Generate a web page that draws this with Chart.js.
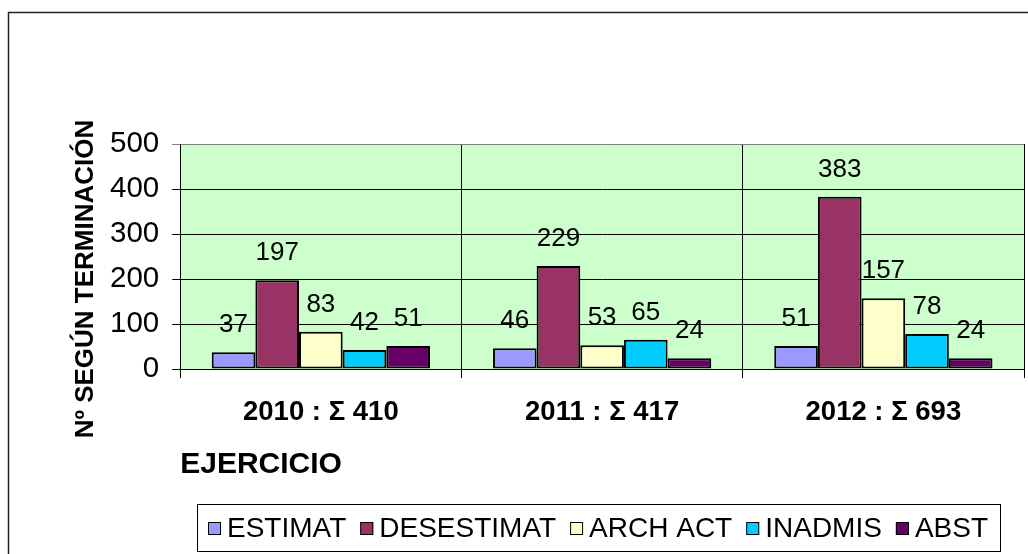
<!DOCTYPE html>
<html><head><meta charset="utf-8">
<script src="https://cdn.jsdelivr.net/npm/chart.js@4.4.0/dist/chart.umd.min.js"></script>
<style>html,body{margin:0;padding:0;background:#fff}#wrap{width:1028px;height:554px;position:relative}canvas{display:block}</style>
</head><body><div id="wrap"><canvas id="c" width="1028" height="554"></canvas></div>
<script>
const categories = ['2010 : Σ 410', '2011 : Σ 417', '2012 : Σ 693'];
const seriesNames = ['ESTIMAT', 'DESESTIMAT', 'ARCH ACT', 'INADMIS', 'ABST'];
const estimat = [37, 46, 51];
const desestimat = [197, 229, 383];
const archAct = [83, 53, 157];
const inadmis = [42, 65, 78];
const abst = [51, 24, 24];
const yTicks = [0, 100, 200, 300, 400, 500];
const yTitle = 'Nº SEGÚN TERMINACIÓN';
const xTitle = 'EJERCICIO';
const seriesColors = ['#9999FF', '#993366', '#FFFFCC', '#00CCFF', '#660066'];

const seriesValues = [estimat, desestimat, archAct, inadmis, abst];
const FONT = "'Liberation Sans', Arial, sans-serif";

const deco = {
  id: 'deco',
  beforeDraw(chart) {
    const ctx = chart.ctx, a = chart.chartArea;
    ctx.save();
    ctx.fillStyle = '#fff';
    ctx.fillRect(0, 0, chart.width, chart.height);
    ctx.strokeStyle = '#222';
    ctx.lineWidth = 1.5;
    ctx.strokeRect(8.5, 12.5, 1200, 700);
    ctx.fillStyle = '#CCFFCC';
    ctx.fillRect(a.left, a.top, a.right - a.left, a.bottom - a.top);
    ctx.restore();
  },
  afterDatasetsDraw(chart) {
    const ctx = chart.ctx;
    ctx.save();
    ctx.font = '26px ' + FONT;
    ctx.fillStyle = '#000';
    ctx.textAlign = 'center';
    ctx.textBaseline = 'alphabetic';
    chart.data.datasets.forEach((ds, i) => {
      chart.getDatasetMeta(i).data.forEach((bar, j) => {
        ctx.fillText(String(ds.data[j]), bar.x, bar.y - 20);
      });
    });
    ctx.restore();
  },
  afterDraw(chart) {
    const ctx = chart.ctx, a = chart.chartArea;
    ctx.save();
    ctx.font = 'bold 26px ' + FONT;
    ctx.fillStyle = '#000';
    ctx.textAlign = 'center';
    ctx.textBaseline = 'alphabetic';
    ctx.translate(93, 279);
    ctx.rotate(-Math.PI / 2);
    ctx.fillText(yTitle, 0, 0);
    ctx.restore();
    ctx.save();
    ctx.font = '28px ' + FONT;
    ctx.textBaseline = 'middle';
    ctx.textAlign = 'left';
    const box = 13, gapText = 6, gapItem = 14;
    const items = chart.data.datasets.map(ds => ({ text: ds.label, color: ds.backgroundColor, w: ctx.measureText(ds.label).width }));
    const total = items.reduce((s, it) => s + box + gapText + it.w, 0) + gapItem * (items.length - 1);
    const cx = (a.left + a.right) / 2 - 4;
    const cy = 528;
    let x = Math.round(cx - total / 2);
    ctx.strokeStyle = '#000';
    ctx.lineWidth = 1;
    ctx.strokeRect(x - 11 + 0.5, 504.5, total + 23, 47);
    items.forEach(it => {
      ctx.fillStyle = it.color;
      ctx.fillRect(x, cy - 6, box, box);
      ctx.strokeStyle = '#000';
      ctx.strokeRect(x + 0.5, cy - 6 + 0.5, box - 1, box - 1);
      ctx.fillStyle = '#000';
      ctx.fillText(it.text, x + box + gapText, cy + 1);
      x += box + gapText + it.w + gapItem;
    });
    ctx.restore();
  }
};

new Chart(document.getElementById('c'), {
  type: 'bar',
  data: {
    labels: categories,
    datasets: seriesNames.map((n, i) => ({
      label: n,
      data: seriesValues[i],
      backgroundColor: seriesColors[i],
      borderColor: '#000',
      borderWidth: 2,
      borderSkipped: false,
      barPercentage: 1,
      categoryPercentage: 0.776
    }))
  },
  options: {
    responsive: false,
    devicePixelRatio: 1,
    animation: false,
    layout: { padding: { top: 144, left: 97, right: 4, bottom: 43 } },
    scales: {
      x: {
        grid: {
          offset: true,
          color: c => (c.index === categories.length ? '#808080' : '#000'),
          lineWidth: 1,
          tickLength: 9
        },
        border: { color: '#000', width: 1 },
        ticks: { color: '#000', font: { family: FONT, size: 27.5, weight: 'bold' }, padding: 18 },
        title: {
          display: true, text: xTitle, align: 'start', color: '#000',
          font: { family: FONT, size: 30, weight: 'bold' }, padding: { top: 0, bottom: 28 }
        }
      },
      y: {
        min: 0, max: 500,
        afterBuildTicks: s => { s.ticks = yTicks.map(v => ({ value: v })); },
        grid: {
          color: c => (c.tick && c.tick.value === 500 ? '#808080' : '#000'),
          lineWidth: 1,
          tickLength: 8
        },
        border: { color: '#000', width: 1 },
        ticks: { color: '#000', font: { family: FONT, size: 29.5 }, padding: 13 }
      }
    },
    plugins: {
      legend: { display: false },
      tooltip: { enabled: false }
    }
  },
  plugins: [deco]
});
</script>
</body></html>
